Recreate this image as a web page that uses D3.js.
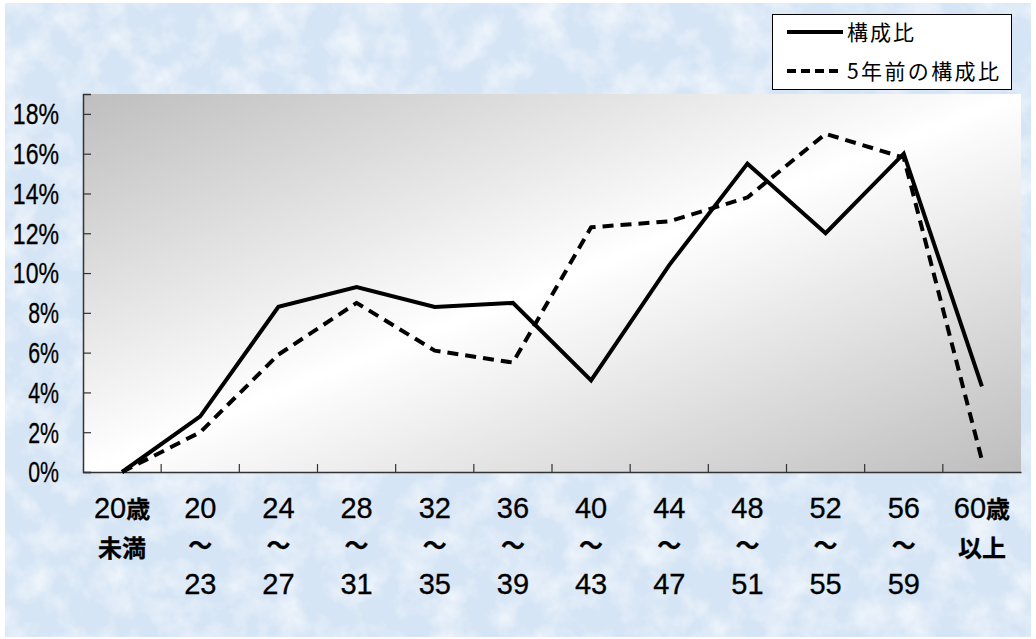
<!DOCTYPE html>
<html>
<head>
  <meta charset="UTF-8">
  <script src="https://d3js.org/d3.v7.min.js"></script>
</head>
<body style="margin:0;">
  <svg id="chartSVG"></svg>
</body>
<style>
  body { background: #fff; }
  .lbl {
    font-family: 'Liberation Sans', 'Noto Sans CJK JP', sans-serif;
    fill: #000;
  }
  .kanji {
    font-family: 'Noto Sans CJK JP', sans-serif;
    font-weight: bold;
  }
  .legendtext {
    font-family: 'Noto Sans CJK JP', sans-serif;
    font-size: 21px;
    fill: #000;
  }
</style>
<script type="text/javascript">
  // data
  const categories = ['20歳未満', '20~23', '24~27', '28~31', '32~35', '36~39', '40~43', '44~47', '48~51', '52~55', '56~59', '60歳以上'];
  const catLines = [
    ['20歳', '未満', ''], ['20', '～', '23'], ['24', '～', '27'], ['28', '～', '31'],
    ['32', '～', '35'], ['36', '～', '39'], ['40', '～', '43'], ['44', '～', '47'],
    ['48', '～', '51'], ['52', '～', '55'], ['56', '～', '59'], ['60歳', '以上', '']
  ];
  const ratioNow = [0, 0.028, 0.083, 0.093, 0.083, 0.085, 0.046, 0.104, 0.155, 0.120, 0.160, 0.043];
  const ratio5yAgo = [0, 0.020, 0.059, 0.085, 0.061, 0.055, 0.123, 0.126, 0.138, 0.170, 0.158, 0.006];
  const yTicks = [0, 0.02, 0.04, 0.06, 0.08, 0.10, 0.12, 0.14, 0.16, 0.18];
  const seriesNames = ['構成比', '5年前の構成比'];

  const W = 1036, H = 639;
  const plot = { left: 83, right: 1021, top: 94, bottom: 472 };

  const svg = d3.select('#chartSVG')
    .attr('width', W)
    .attr('height', H);

  var defs = svg.append('defs');

  // paper-like texture for the page background
  var tex = defs.append('filter')
    .attr('id', 'paper')
    .attr('x', 0).attr('y', 0).attr('width', '100%').attr('height', '100%');
  tex.append('feTurbulence')
    .attr('type', 'fractalNoise')
    .attr('baseFrequency', '0.03')
    .attr('numOctaves', 4)
    .attr('seed', 7)
    .attr('result', 'noise');
  tex.append('feColorMatrix')
    .attr('in', 'noise')
    .attr('type', 'matrix')
    .attr('values', '0 0 0 0 1  0 0 0 0 1  0 0 0 0 1  2.4 0 0 0 -1.0');

  // plot area gradient: grey corners, white middle
  var grad = defs.append('linearGradient')
    .attr('id', 'plotGradient')
    .attr('x1', '0%').attr('y1', '0%')
    .attr('x2', '100%').attr('y2', '100%');
  grad.append('stop').attr('offset', '0%').attr('stop-color', '#bebebe');
  grad.append('stop').attr('offset', '50%').attr('stop-color', '#ffffff');
  grad.append('stop').attr('offset', '100%').attr('stop-color', '#bdbdbd');

  // page background
  svg.append('rect')
    .attr('width', W).attr('height', H)
    .attr('fill', '#ffffff');
  svg.append('rect')
    .attr('x', 5).attr('y', 3)
    .attr('width', W - 10).attr('height', H - 5)
    .attr('fill', '#d6e5f5');
  svg.append('rect')
    .attr('x', 5).attr('y', 3)
    .attr('width', W - 10).attr('height', H - 5)
    .attr('filter', 'url(#paper)')
    .attr('opacity', 0.6);

  // scales
  const x = d3.scaleBand()
    .domain(categories)
    .range([plot.left, plot.right]);
  const y = d3.scaleLinear()
    .domain([0, 0.19])
    .range([plot.bottom, plot.top]);

  // plot area
  svg.append('rect')
    .attr('x', plot.left).attr('y', plot.top)
    .attr('width', plot.right - plot.left)
    .attr('height', plot.bottom - plot.top)
    .attr('fill', 'url(#plotGradient)');

  // y axis (ticks inward)
  const yAxis = d3.axisRight(y)
    .tickValues(yTicks)
    .tickSize(8)
    .tickFormat('');
  svg.append('g')
    .attr('transform', `translate(${plot.left},0)`)
    .call(yAxis)
    .call(g => g.select('.domain').attr('stroke', '#333').attr('stroke-width', 1.5))
    .call(g => g.selectAll('.tick line').attr('stroke', '#333').attr('stroke-width', 1.2));

  svg.append('g')
    .selectAll('text')
    .data(yTicks)
    .join('text')
    .attr('class', 'lbl')
    .attr('x', 59)
    .attr('y', d => y(d))
    .attr('dy', '0.36em')
    .attr('text-anchor', 'end')
    .attr('font-size', 29)
    .attr('stroke', '#000')
    .attr('stroke-width', 0.3)
    .text(d => d3.format('.0%')(d))
    .attr('textLength', d => d3.format('.0%')(d).length * 15.4)
    .attr('lengthAdjust', 'spacingAndGlyphs');

  // x axis (ticks inward, at category boundaries)
  const xAxis = d3.axisTop(x)
    .tickSize(0)
    .tickFormat('');
  const xg = svg.append('g')
    .attr('transform', `translate(0,${plot.bottom})`)
    .call(xAxis)
    .call(g => g.select('.domain').attr('stroke', '#333').attr('stroke-width', 1.5));
  xg.selectAll('line.bound')
    .data(categories.slice(1))
    .join('line')
    .attr('class', 'bound')
    .attr('x1', d => x(d)).attr('x2', d => x(d))
    .attr('y1', 0).attr('y2', -8)
    .attr('stroke', '#333')
    .attr('stroke-width', 1.2);

  // x labels: first line, middle line (tilde or kanji), last line
  const rowY = [518, 557, 594];
  const lab = svg.append('g')
    .selectAll('g')
    .data(catLines)
    .join('g')
    .attr('transform', (d, i) => `translate(${x(categories[i]) + x.bandwidth() / 2},0)`);
  lab.each(function(lines) {
    const g = d3.select(this);
    lines.forEach((t, j) => {
      if (!t) return;
      const tx = g.append('text')
        .attr('class', 'lbl')
        .attr('text-anchor', 'middle')
        .attr('font-size', 29)
        .attr('stroke', '#000')
        .attr('stroke-width', 0.3);
      if (t === '～') {
        tx.attr('y', 546).attr('dy', '0.35em')
          .attr('class', 'lbl kanji')
          .attr('font-size', 24)
          .attr('font-weight', 'normal')
          .text(t);
        return;
      }
      tx.attr('y', rowY[j]);
      // split digits / kanji
      const parts = t.match(/[0-9]+|[^0-9]+/g);
      parts.forEach(p => {
        const sp = tx.append('tspan').text(p);
        if (/[^0-9]/.test(p)) sp.attr('class', 'kanji').attr('font-size', 24);
      });
    });
  });

  // lines
  const line = d3.line()
    .x((d, i) => x(categories[i]) + x.bandwidth() / 2)
    .y(d => y(d));

  svg.append('path')
    .datum(ratio5yAgo)
    .attr('fill', 'none')
    .attr('stroke', '#000')
    .attr('stroke-width', 4)
    .attr('stroke-dasharray', '11,7')
    .attr('stroke-linejoin', 'round')
    .attr('d', line);

  svg.append('path')
    .datum(ratioNow)
    .attr('fill', 'none')
    .attr('stroke', '#000')
    .attr('stroke-width', 4)
    .attr('stroke-linejoin', 'miter')
    .attr('d', line);

  // legend
  const lg = svg.append('g');
  lg.append('rect')
    .attr('x', 772.5).attr('y', 14.5)
    .attr('width', 239).attr('height', 75)
    .attr('fill', '#fff')
    .attr('stroke', '#000')
    .attr('stroke-width', 1);
  const legRows = [32, 71];
  const legWidths = [67, 152];
  lg.selectAll('line.leg')
    .data(seriesNames)
    .join('line')
    .attr('class', 'leg')
    .attr('x1', 787).attr('x2', 843)
    .attr('y1', (d, i) => legRows[i]).attr('y2', (d, i) => legRows[i])
    .attr('stroke', '#000')
    .attr('stroke-width', 4)
    .attr('stroke-dasharray', (d, i) => i === 1 ? '9,5' : null);
  lg.selectAll('text.legendtext')
    .data(seriesNames)
    .join('text')
    .attr('class', 'legendtext')
    .attr('x', 847)
    .attr('y', (d, i) => legRows[i])
    .attr('dy', '0.36em')
    .attr('textLength', (d, i) => legWidths[i])
    .attr('lengthAdjust', 'spacing')
    .text(d => d);
</script>
</html>
